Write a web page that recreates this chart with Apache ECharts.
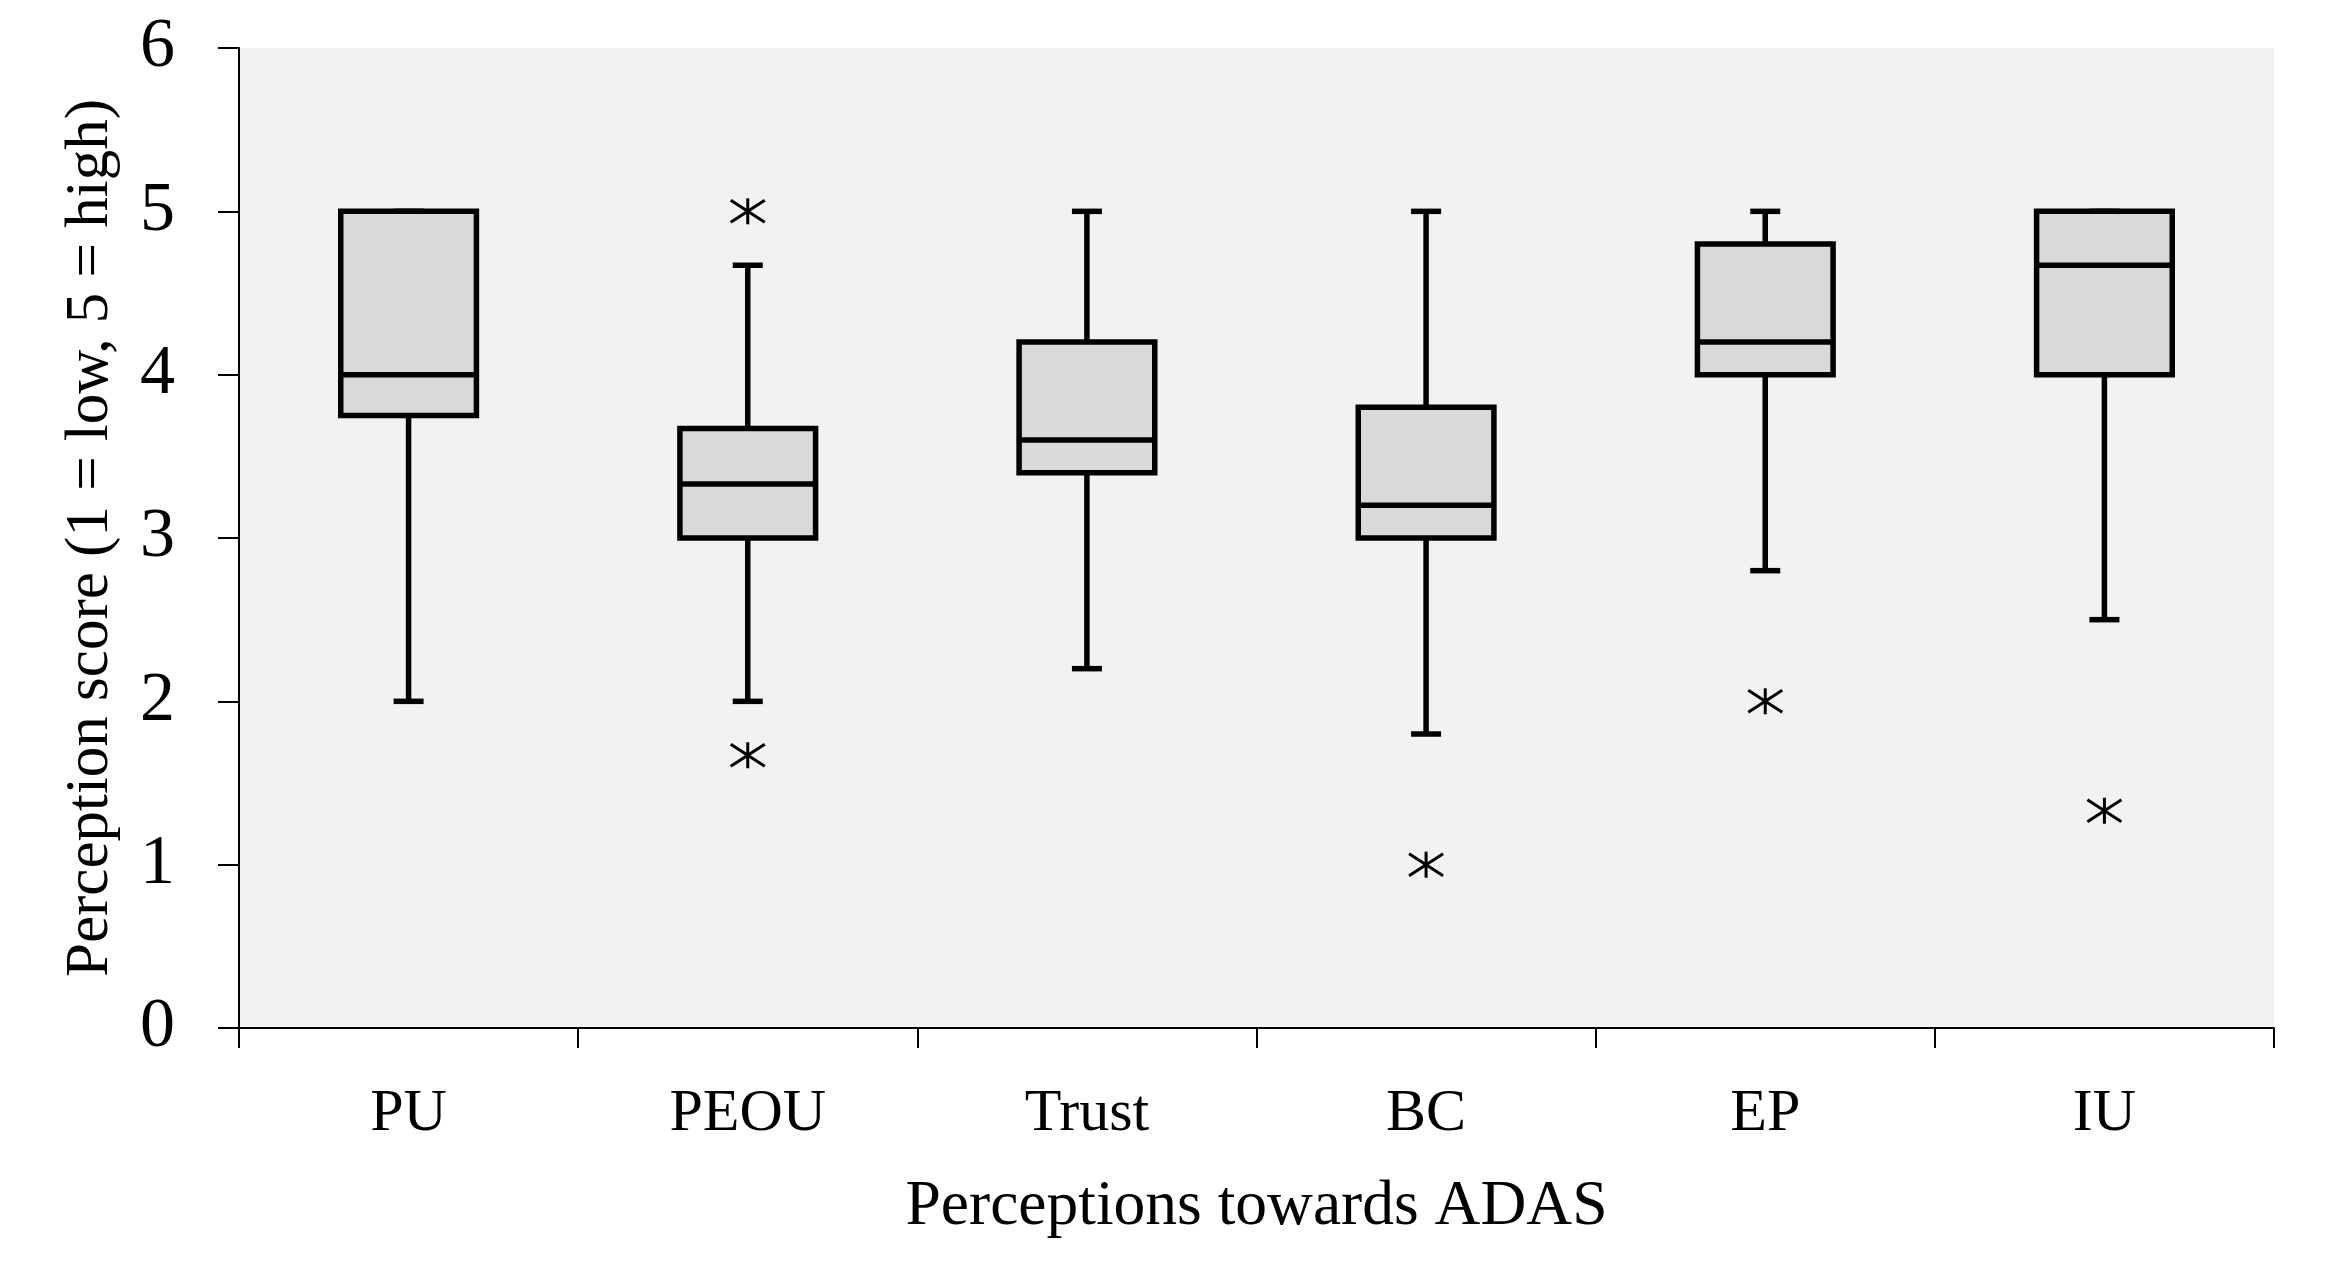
<!DOCTYPE html>
<html>
<head>
<meta charset="utf-8">
<script src="https://cdn.jsdelivr.net/npm/echarts@6/dist/echarts.min.js"></script>
<style>
  html, body { margin: 0; padding: 0; background: #fff; }
  #box-chart { width: 2343px; height: 1280px; }
</style>
</head>
<body>
<div id="box-chart"></div>
<script>
  const categories = ['PU', 'PEOU', 'Trust', 'BC', 'EP', 'IU']
  const whiskerLow = [2, 2, 2.2, 1.8, 2.8, 2.5]
  const quartile1 = [3.75, 3, 3.4, 3, 4, 4]
  const medians = [4, 3.33, 3.6, 3.2, 4.2, 4.67]
  const quartile3 = [5, 3.67, 4.2, 3.8, 4.8, 5]
  const whiskerHigh = [5, 4.67, 5, 5, 5, 5]
  // [category index, value]
  const outliers = [[1, 5], [1, 1.67], [3, 1], [4, 2], [5, 1.33]]

  const boxData = categories.map(function (c, i) {
    return [i, whiskerLow[i], quartile1[i], medians[i], quartile3[i], whiskerHigh[i]]
  })

  const black = '#000'

  function seg(x1, y1, x2, y2, w) {
    return {
      type: 'line',
      shape: { x1: x1, y1: y1, x2: x2, y2: y2 },
      style: { stroke: black, lineWidth: w, lineCap: 'butt' }
    }
  }

  function renderBox (params, api) {
    var idx = api.value(0)
    var low = api.coord([idx, api.value(1)])
    var q1 = api.coord([idx, api.value(2)])
    var med = api.coord([idx, api.value(3)])
    var q3 = api.coord([idx, api.value(4)])
    var high = api.coord([idx, api.value(5)])
    var band = api.size([1, 0])[0]
    var half = band * 0.2
    var cap = 15
    var x = med[0]
    return {
      type: 'group',
      children: [
        seg(x, q1[1], x, low[1], 5.5),
        seg(x, q3[1], x, high[1], 5.5),
        seg(x - cap, low[1], x + cap, low[1], 5.5),
        seg(x - cap, high[1], x + cap, high[1], 5.5),
        {
          type: 'rect',
          shape: { x: x - half, y: q3[1], width: half * 2, height: q1[1] - q3[1] },
          style: { fill: '#d9d9d9', stroke: black, lineWidth: 5.5 }
        },
        seg(x - half, med[1], x + half, med[1], 5.5)
      ]
    }
  }

  function renderStar (params, api) {
    var p = api.coord([api.value(0), api.value(1)])
    var hw = 17, hh = 13
    return {
      type: 'group',
      children: [
        seg(p[0], p[1] - hh, p[0], p[1] + hh, 3),
        seg(p[0] - hw, p[1] - hh + 2, p[0] + hw, p[1] + hh - 2, 3),
        seg(p[0] - hw, p[1] + hh - 2, p[0] + hw, p[1] - hh + 2, 3)
      ]
    }
  }

  const serif = 'Liberation Serif'
  const chart = echarts.init(document.getElementById('box-chart'))
  chart.setOption({
    animation: false,
    grid: {
      left: 239,
      right: 69,
      top: 48,
      bottom: 252,
      show: true,
      backgroundColor: '#f2f2f2',
      borderWidth: 0
    },
    xAxis: {
      type: 'category',
      data: categories,
      boundaryGap: true,
      name: 'Perceptions towards ADAS',
      nameLocation: 'middle',
      nameGap: 147,
      nameTextStyle: { fontFamily: serif, fontSize: 63.5, color: black },
      axisLine: { show: true, lineStyle: { color: black, width: 2 } },
      axisTick: { show: true, interval: 0, alignWithLabel: false, length: 20, lineStyle: { color: black, width: 2 } },
      axisLabel: { fontFamily: serif, fontSize: 60, color: black, margin: 56 },
      splitLine: { show: false }
    },
    yAxis: {
      type: 'value',
      min: 0,
      max: 6,
      interval: 1,
      name: 'Perception score (1 = low, 5 = high)',
      nameLocation: 'middle',
      nameGap: 118,
      nameTextStyle: { fontFamily: serif, fontSize: 61, color: black },
      axisLine: { show: true, lineStyle: { color: black, width: 2 } },
      axisTick: { show: true, length: 21, lineStyle: { color: black, width: 2 } },
      axisLabel: { fontFamily: serif, fontSize: 70, color: black, margin: 64 },
      splitLine: { show: false }
    },
    series: [{
      type: 'custom',
      renderItem: renderBox,
      encode: { x: 0, y: [1, 2, 3, 4, 5] },
      data: boxData
    }, {
      type: 'custom',
      renderItem: renderStar,
      encode: { x: 0, y: 1 },
      data: outliers
    }]
  })
</script>
</body>
</html>
